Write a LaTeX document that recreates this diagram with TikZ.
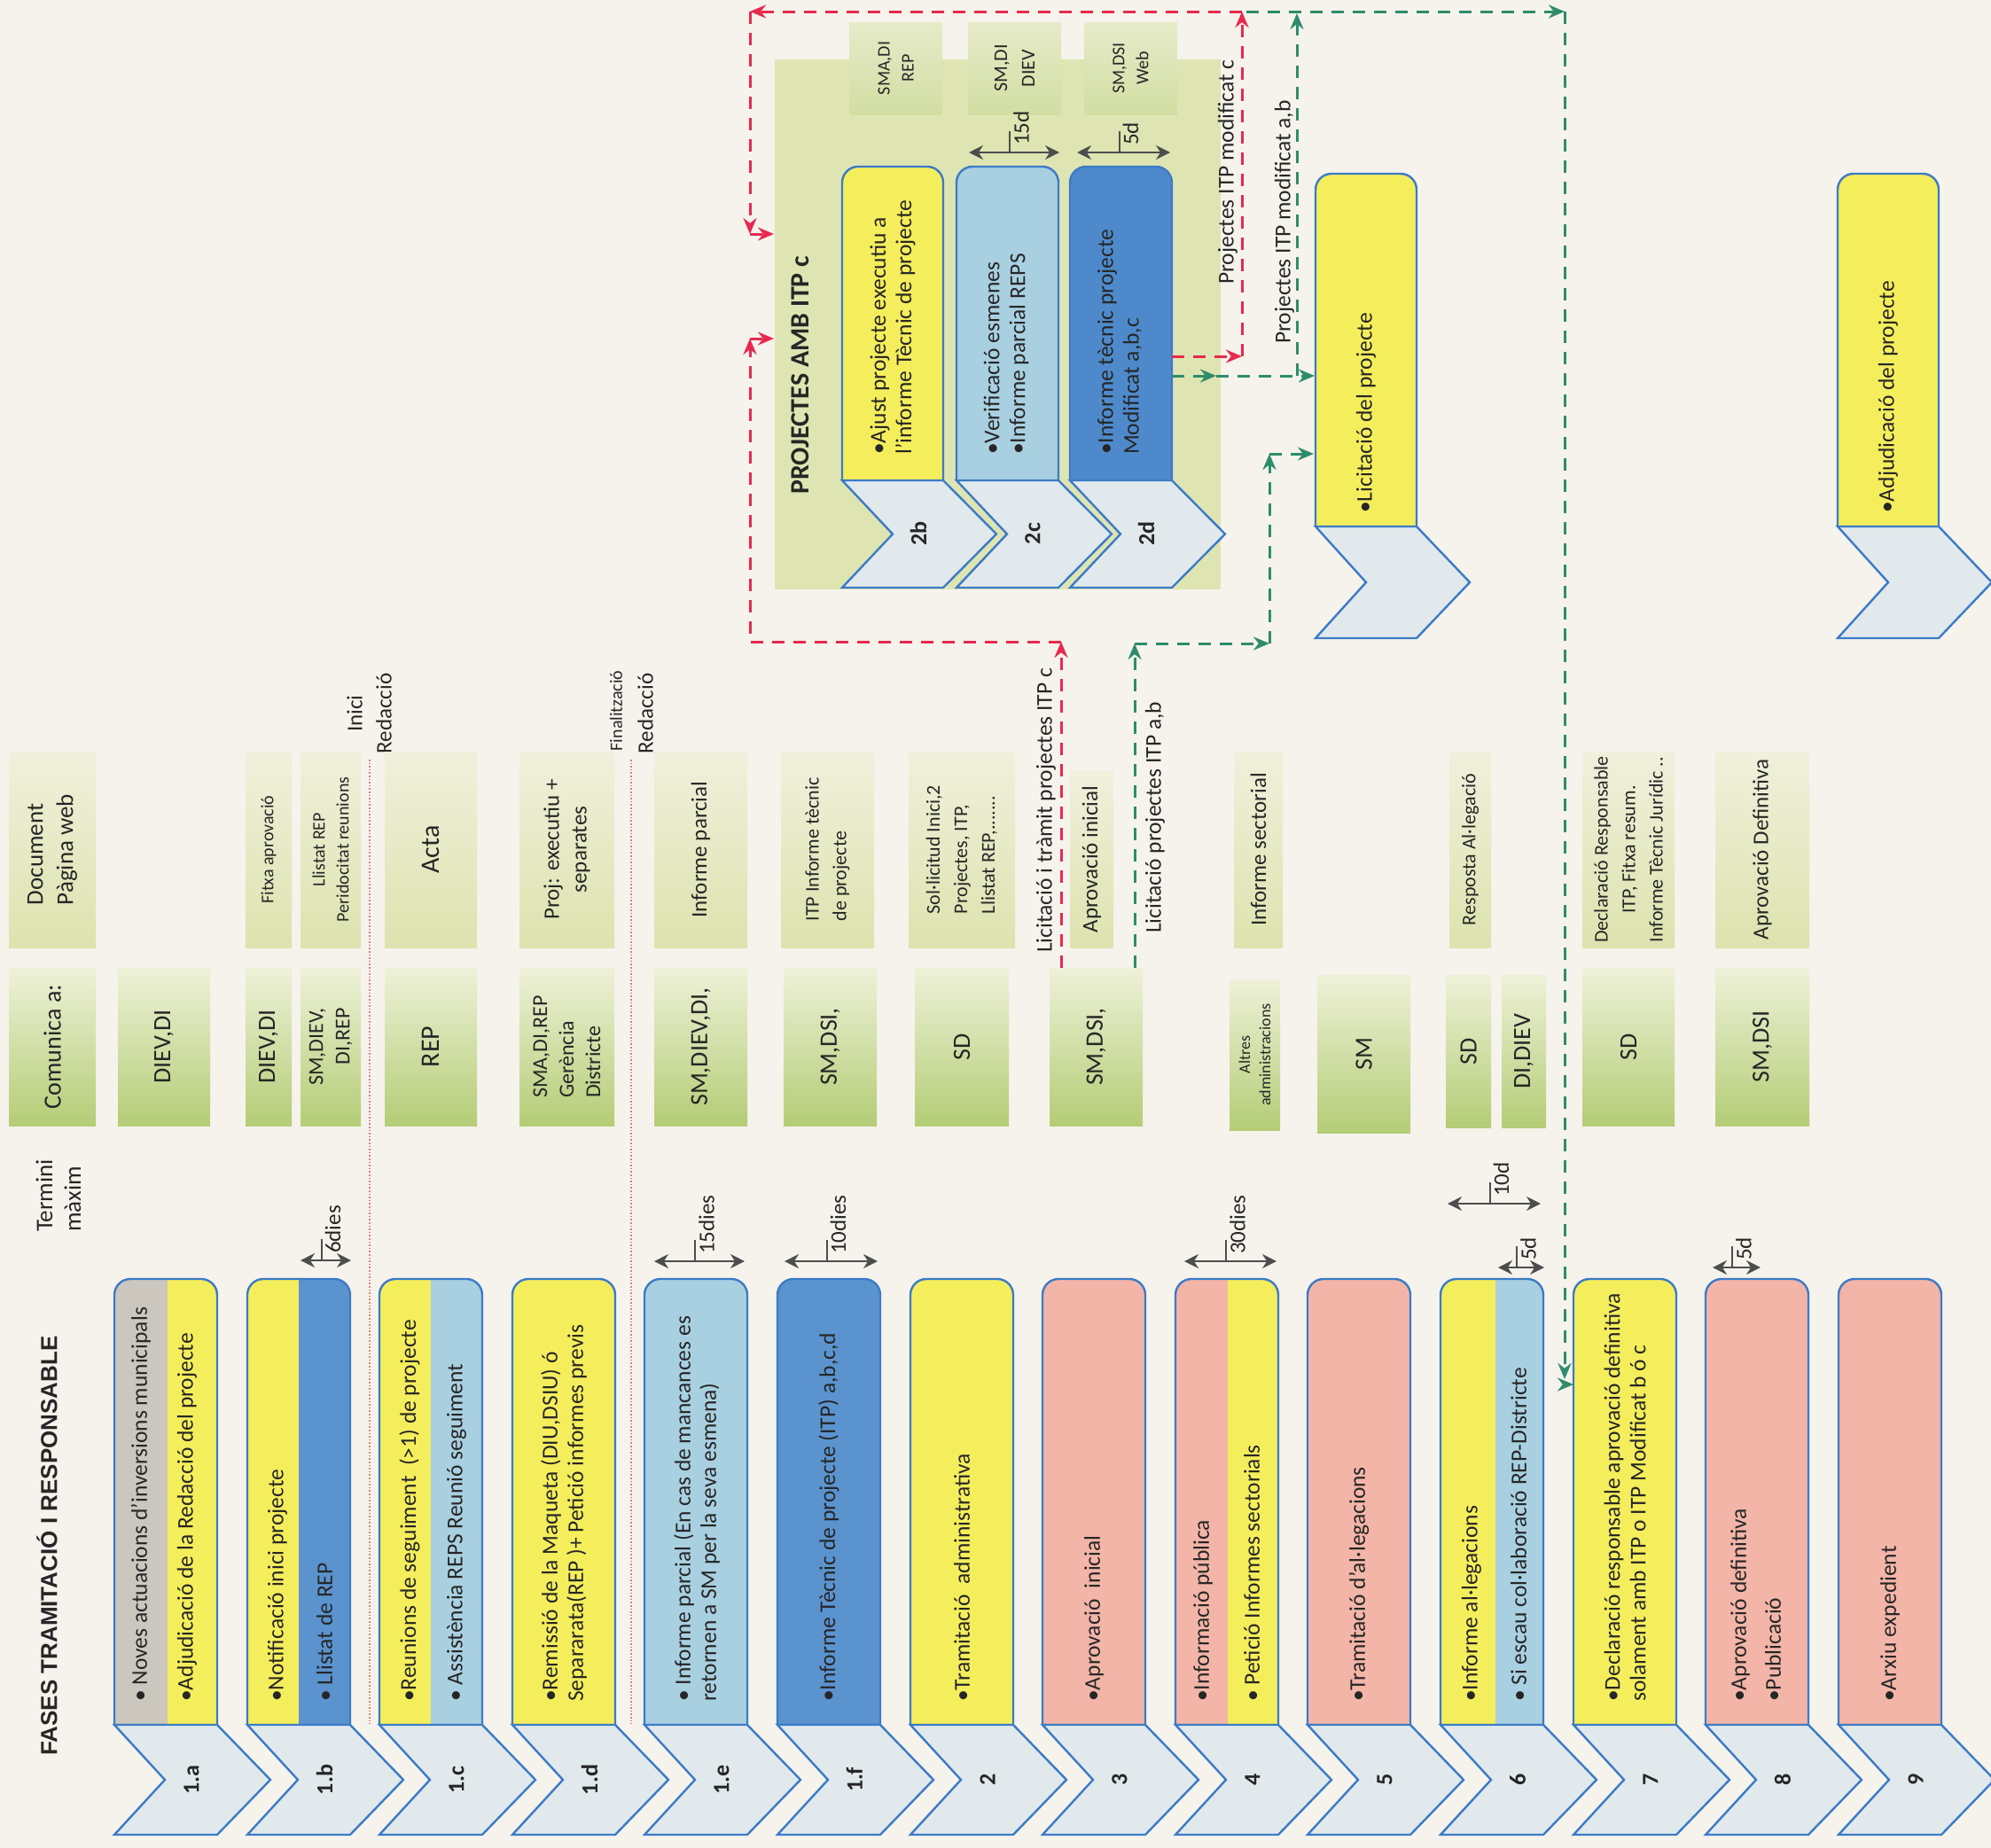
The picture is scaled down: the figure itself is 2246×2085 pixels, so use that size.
\documentclass[tikz,border=0pt]{standalone}
\usepackage{fontspec}
\setmainfont{Carlito}
\newfontfamily\titlefont{Liberation Sans}
\usetikzlibrary{arrows.meta}
\definecolor{paper}{HTML}{F5F3EC}
\definecolor{cyel}{HTML}{F5EE5C}
\definecolor{cgray}{HTML}{CBC7BE}
\definecolor{cdblue}{HTML}{5B93CF}
\definecolor{cdblue2}{HTML}{4E8ACB}
\definecolor{clblue}{HTML}{A9D0E1}
\definecolor{cpink}{HTML}{F3B5A8}
\definecolor{outlc}{HTML}{3C7BC6}
\definecolor{chevfill}{HTML}{E1E9EC}
\definecolor{gdark}{HTML}{B4CD76}
\definecolor{glight}{HTML}{EEF1D8}
\definecolor{dlight}{HTML}{F0F0DC}
\definecolor{ddark}{HTML}{DDE3AE}
\definecolor{tlight}{HTML}{E6EBC9}
\definecolor{tdark}{HTML}{D2DEA3}
\definecolor{cont}{HTML}{DFE5B2}
\definecolor{redd}{HTML}{E8294F}
\definecolor{grnd}{HTML}{2E8C6C}
\definecolor{textc}{HTML}{262626}
\definecolor{arrowc}{HTML}{4D4D4D}
\definecolor{dotc}{HTML}{E07A7A}
\newcommand\mybody{\fontsize{25.5}{29}\selectfont}
\newcommand\mydoc{\fontsize{25}{31}\selectfont}
\newcommand\mydocs{\fontsize{22}{31}\selectfont}
\newcommand\mysmall{\fontsize{20}{27}\selectfont}
\newcommand\mytiny{\fontsize{18}{23}\selectfont}
\newcommand\mycomm{\fontsize{28}{34}\selectfont}
\newcommand\mycomms{\fontsize{24}{30}\selectfont}
\newcommand\myxl{\fontsize{30}{34}\selectfont}
\newcommand\mylab{\bfseries\fontsize{26}{30}\selectfont}
\newcommand\myptitle{\bfseries\fontsize{30}{34}\selectfont}
\newcommand\mydur{\fontsize{25}{30}\selectfont}
\newcommand\mytitle{\titlefont\bfseries\fontsize{26}{30}\selectfont}
\tikzset{
  outl/.style={draw=outlc, line width=2.4pt},
  chevst/.style={draw=outlc, line width=2.4pt, fill=chevfill, line join=miter},
  commbox/.style={draw=none, top color=glight, bottom color=gdark, inner sep=0pt, outer sep=0pt},
  docbox/.style={draw=none, top color=dlight, bottom color=ddark, inner sep=0pt, outer sep=0pt},
  topbox/.style={draw=none, top color=tlight, bottom color=tdark, inner sep=0pt, outer sep=0pt},
  txt/.style={rotate=90, inner sep=0pt, text=textc, font=\mybody},
  chevlab/.style={rotate=90, inner sep=0pt, text=textc, font=\mylab},
  reddash/.style={draw=redd, line width=3pt, dash pattern=on 14pt off 10pt},
  grndash/.style={draw=grnd, line width=3pt, dash pattern=on 14pt off 10pt},
  rarr/.style={reddash, -{Stealth[length=18pt,width=15pt]}},
  garr/.style={grndash, -{Stealth[length=18pt,width=15pt]}},
  dur/.style={draw=arrowc, line width=2.2pt, {Stealth[length=16pt,width=16pt]}-{Stealth[length=16pt,width=16pt]}},
  durtick/.style={draw=arrowc, line width=2pt},
  dotline/.style={draw=dotc, line width=1.6pt, dotted},
}
% box with rounded top: L, R, T, B, colour1, split x, colour2
\newcommand\pbox[7]{%
  \begin{scope}
    \clip[rounded corners=18pt] (#1,#4) -- (#1,#3) -- (#2,#3) -- (#2,#4);
    \fill[#5] (#1,#3) rectangle (#6,#4);
    \fill[#7] (#6,#3) rectangle (#2,#4);
  \end{scope}
  \draw[outl, rounded corners=18pt] (#1,#4) -- (#1,#3) -- (#2,#3) -- (#2,#4);
}
% chevron: L, R, T, B
\newcommand\chev[4]{%
  \draw[chevst] (#1,#3) -- (#2,#3) -- ({#2+60},{(#3+#4)/2}) -- (#2,#4) -- (#1,#4) -- ({#1+57},{(#3+#4)/2}) -- cycle;}
% green box: name, style, x1, y1, x2, y2, text, text options
\newcommand\gbox[8]{%
  \node[#2, minimum width={#5-#3}, minimum height={#6-#4}] (#1) at ({(#3+#5)/2},{(#4+#6)/2}) {};
  \node[txt, #8] (#1t) at (#1.center) {#7};}
% duration marker: name, x1, x2, y, label
\newcommand\durmark[5]{%
  \coordinate (#1a) at (#2,#4);
  \coordinate (#1b) at (#3,#4);
  \draw[dur] (#1a) -- (#1b);
  \draw[durtick] ({(#2+#3)/2-5},#4) -- ({(#2+#3)/2-5},{#4-24});
  \node[txt, anchor=west, font=\mydur] (#1l) at ({(#2+#3)/2+8},{#4-8}) {#5};}
\begin{document}
\begin{tikzpicture}[x=1pt,y=-1pt]
\useasboundingbox (0,0) rectangle (2246,2085);
\fill[paper] (0,0) rectangle (2246,2085);

% ---------- titles ----------
\node[rotate=90, anchor=west, inner sep=0pt, font=\mytitle, text=textc] (title) at (53,1981) {FASES TRAMITACIÓ I RESPONSABLE};
\node[txt, anchor=west, align=left, font=\fontsize{27}{32}\selectfont] (termini) at (66,1390) {Termini\\màxim};

% ---------- dotted separators ----------
\draw[dotline] (417,857) -- (417,1945);
\draw[dotline] (712,857) -- (712,1945);
\node[txt, font=\mydoc] (inici) at (400,805) {Inici};
\node[txt, font=\mydoc] (red1) at (433,805) {Redacció};
\node[txt, font=\mysmall] (finalit) at (695,802) {Finalització};
\node[txt, font=\mydoc] (red2) at (728,805) {Redacció};

% ---------- document row ----------
\gbox{doc0}{docbox}{10}{848}{108}{1069}{Document\\Pàgina web}{align=left, font=\fontsize{27}{34}\selectfont}
\gbox{doc1a}{docbox}{277}{848}{329}{1069}{Fitxa aprovació}{font=\mysmall}
\gbox{doc1b}{docbox}{339}{848}{407}{1069}{Llistat REP\\Peridocitat reunions}{align=center, font=\mysmall}
\gbox{doc1c}{docbox}{434}{848}{538}{1069}{Acta}{font=\myxl}
\gbox{doc1d}{docbox}{586}{848}{693}{1069}{Proj: executiu +\\separates}{align=center, font=\mydoc}
\gbox{doc1e}{docbox}{738}{848}{843}{1069}{Informe parcial}{font=\mydoc}
\gbox{doc1f}{docbox}{881}{848}{986}{1069}{ITP Informe tècnic\\de projecte}{align=left, font=\mydocs}
\gbox{doc2}{docbox}{1025}{848}{1145}{1069}{Sol·licitud Inici,2\\Projectes, ITP,\\Llistat REP,.......}{align=left, font=\mydocs}
\gbox{doc3}{docbox}{1207}{870}{1256}{1069}{Aprovació inicial}{font=\mydoc}
\gbox{doc4}{docbox}{1392}{848}{1447}{1069}{Informe sectorial}{font=\mydoc}
\gbox{doc6}{docbox}{1635}{848}{1682}{1069}{Resposta Al·legació}{font=\mydocs}
\gbox{doc7}{docbox}{1785}{848}{1889}{1069}{Declaració Responsable\\ITP, Fitxa resum.\\Informe Tècnic Jurídic ..}{align=center, font=\mydocs}
\gbox{doc8}{docbox}{1935}{848}{2041}{1069}{Aprovació Definitiva}{font=\mydoc}

% ---------- comunica row ----------
\gbox{comm0}{commbox}{10}{1092}{108}{1270}{Comunica a:}{font=\mycomm}
\gbox{comm1a}{commbox}{133}{1092}{237}{1270}{DIEV,DI}{font=\mycomm}
\gbox{comm1b1}{commbox}{277}{1092}{329}{1270}{DIEV,DI}{font=\mycomm}
\gbox{comm1b2}{commbox}{339}{1092}{407}{1270}{SM,DIEV,\\DI,REP}{align=right, font=\mycomms}
\gbox{comm1c}{commbox}{434}{1092}{538}{1270}{REP}{font=\myxl}
\gbox{comm1d}{commbox}{586}{1092}{693}{1270}{SMA,DI,REP\\Gerència\\Districte}{align=left, font=\mycomms}
\gbox{comm1e}{commbox}{738}{1092}{843}{1270}{SM,DIEV,DI,}{font=\mycomm}
\gbox{comm1f}{commbox}{884}{1092}{989}{1270}{SM,DSI,}{font=\mycomm}
\gbox{comm2}{commbox}{1032}{1092}{1138}{1270}{SD}{font=\mycomm}
\gbox{comm3}{commbox}{1184}{1092}{1289}{1270}{SM,DSI,}{font=\mycomm}
\gbox{comm4}{commbox}{1387}{1105}{1444}{1275}{Altres\\administracions}{align=center, font=\mytiny}
\gbox{comm5}{commbox}{1486}{1100}{1591}{1278}{SM}{font=\mycomm}
\gbox{comm6a}{commbox}{1631}{1100}{1682}{1272}{SD}{font=\mycomm}
\gbox{comm6b}{commbox}{1694}{1100}{1744}{1272}{DI,DIEV}{font=\mycomm}
\gbox{comm7}{commbox}{1785}{1092}{1889}{1270}{SD}{font=\mycomm}
\gbox{comm8}{commbox}{1935}{1092}{2041}{1270}{SM,DSI}{font=\mycomm}

% ---------- bottom phases ----------
\pbox{129}{245}{1443}{1946}{cgray}{189}{cyel}
\pbox{279}{395}{1443}{1946}{cyel}{337}{cdblue}
\pbox{428}{544}{1443}{1946}{cyel}{486}{clblue}
\pbox{578}{694}{1443}{1946}{cyel}{694}{cyel}
\pbox{727}{843}{1443}{1946}{clblue}{843}{clblue}
\pbox{877}{993}{1443}{1946}{cdblue}{993}{cdblue}
\pbox{1027}{1143}{1443}{1946}{cyel}{1143}{cyel}
\pbox{1176}{1292}{1443}{1946}{cpink}{1292}{cpink}
\pbox{1326}{1442}{1443}{1946}{cpink}{1385}{cyel}
\pbox{1475}{1591}{1443}{1946}{cpink}{1591}{cpink}
\pbox{1625}{1741}{1443}{1946}{cyel}{1687}{clblue}
\pbox{1775}{1891}{1443}{1946}{cyel}{1891}{cyel}
\pbox{1924}{2040}{1443}{1946}{cpink}{2040}{cpink}
\pbox{2074}{2190}{1443}{1946}{cpink}{2190}{cpink}

\chev{129}{245}{1946}{2070}
\chev{279}{395}{1946}{2070}
\chev{428}{544}{1946}{2070}
\chev{578}{694}{1946}{2070}
\chev{727}{843}{1946}{2070}
\chev{877}{993}{1946}{2070}
\chev{1027}{1143}{1946}{2070}
\chev{1176}{1292}{1946}{2070}
\chev{1326}{1442}{1946}{2070}
\chev{1475}{1591}{1946}{2070}
\chev{1625}{1741}{1946}{2070}
\chev{1775}{1891}{1946}{2070}
\chev{1924}{2040}{1946}{2070}
\chev{2074}{2190}{1946}{2070}

\node[chevlab] (c1a) at (216,2008) {1.a};
\node[chevlab] (c1b) at (366,2008) {1.b};
\node[chevlab] (c1c) at (515,2008) {1.c};
\node[chevlab] (c1d) at (665,2008) {1.d};
\node[chevlab] (c1e) at (814,2008) {1.e};
\node[chevlab] (c1f) at (964,2008) {1.f};
\node[chevlab] (c2) at (1114,2008) {2};
\node[chevlab] (c3) at (1263,2008) {3};
\node[chevlab] (c4) at (1413,2008) {4};
\node[chevlab] (c5) at (1562,2008) {5};
\node[chevlab] (c6) at (1712,2008) {6};
\node[chevlab] (c7) at (1862,2008) {7};
\node[chevlab] (c8) at (2011,2008) {8};
\node[chevlab] (c9) at (2161,2008) {9};

\node[txt, anchor=west] (t1a1) at (159,1920) {• Noves actuacions d’inversions municipals};
\node[txt, anchor=west] (t1a2) at (211,1920) {•Adjudicació de la Redacció del projecte};
\node[txt, anchor=west] (t1b1) at (313,1920) {•Notificació inici projecte};
\node[txt, anchor=west] (t1b2) at (366,1920) {• Llistat de REP};
\node[txt, anchor=west] (t1c1) at (462,1920) {•Reunions de seguiment~ (>1) de projecte};
\node[txt, anchor=west] (t1c2) at (515,1920) {• Assistència REPS Reunió seguiment};
\node[txt, anchor=west, align=left] (t1d) at (636,1920) {•Remissió de la Maqueta (DIU,DSIU) ó\\Separarata(REP )+ Petició informes previs};
\node[txt, anchor=west, align=left] (t1e) at (786,1920) {• Informe parcial (En cas de mancances es\\retornen a SM per la seva esmena)};
\node[txt, anchor=west] (t1f) at (935,1920) {•Informe Tècnic de projecte (ITP) a,b,c,d};
\node[txt, anchor=west] (t2) at (1085,1920) {•Tramitació~ administrativa};
\node[txt, anchor=west] (t3) at (1234,1920) {•Aprovació~ inicial};
\node[txt, anchor=west] (t41) at (1357,1920) {•Informació pública};
\node[txt, anchor=west] (t42) at (1412,1920) {• Petició Informes sectorials};
\node[txt, anchor=west] (t5) at (1533,1920) {•Tramitació d’al·legacions};
\node[txt, anchor=west] (t61) at (1660,1920) {•Informe al·legacions};
\node[txt, anchor=west] (t62) at (1713,1920) {• Si escau col·laboració REP-Districte};
\node[txt, anchor=west, align=left] (t7) at (1833,1920) {•Declaració responsable aprovació definitiva\\solament amb ITP o ITP Modificat b ó c};
\node[txt, anchor=west] (t81) at (1963,1920) {•Aprovació definitiva};
\node[txt, anchor=west] (t82) at (2000,1920) {•Publicació};
\node[txt, anchor=west] (t9) at (2132,1920) {•Arxiu expedient};

% ---------- duration markers ----------
\durmark{m1}{339}{396}{1422}{6dies}
\durmark{m2}{738}{840}{1423}{15dies}
\durmark{m3}{885}{990}{1423}{10dies}
\durmark{m4}{1336}{1440}{1423}{30dies}
\durmark{m5}{1633}{1738}{1358}{10d}
\durmark{m6}{1690}{1742}{1430}{5d}
\durmark{m7}{1932}{1986}{1430}{5d}

% ---------- PROJECTES AMB ITP c ----------
\node[fill=cont, draw=none, inner sep=0pt, minimum width=503, minimum height=598] (cont) at (1125.5,366) {};
\gbox{top2b}{topbox}{958}{25}{1063}{129}{SMA,DI\\REP}{align=center, font=\mysmall}
\gbox{top2c}{topbox}{1092}{25}{1197}{129}{SM,DI\\DIEV}{align=center, font=\mydocs}
\gbox{top2d}{topbox}{1223}{25}{1328}{129}{SM,DSI\\Web}{align=center, font=\mysmall}
\node[txt, anchor=west, font=\myptitle] (ptitle) at (903,558) {PROJECTES AMB ITP c};
\pbox{950}{1064}{188}{542}{cyel}{1064}{cyel}
\pbox{1079}{1194}{188}{542}{clblue}{1194}{clblue}
\pbox{1207}{1322}{188}{542}{cdblue2}{1322}{cdblue2}
\chev{950}{1064}{542}{663}
\chev{1079}{1194}{542}{663}
\chev{1207}{1322}{542}{663}
\node[chevlab] (c2b) at (1036,602) {2b};
\node[chevlab] (c2c) at (1165,602) {2c};
\node[chevlab] (c2d) at (1293,602) {2d};
\node[txt, anchor=west, align=left] (t2b) at (1007,513) {•Ajust projecte executiu a\\l’informe Tècnic de projecte};
\node[txt, anchor=west, align=left] (t2c) at (1135,513) {•Verificació esmenes\\•Informe parcial REPS};
\node[txt, anchor=west, align=left] (t2d) at (1263,513) {•Informe tècnic projecte\\Modificat a,b,c};
\durmark{m8}{1093}{1195}{172}{15d}
\durmark{m9}{1215}{1320}{172}{5d}

% ---------- Licitació / Adjudicació ----------
\pbox{1484}{1598}{196}{594}{cyel}{1598}{cyel}
\chev{1484}{1598}{594}{720}
\node[txt, anchor=west] (tlic) at (1541,579) {•Licitació del projecte};
\pbox{2073}{2187}{196}{594}{cyel}{2187}{cyel}
\chev{2073}{2187}{594}{720}
\node[txt, anchor=west] (tadj) at (2130,579) {•Adjudicació del projecte};

% ---------- connectors ----------
\coordinate (ra0) at (1197,1092);
\coordinate (ra1) at (1197,724);
\coordinate (ra2) at (846,724);
\coordinate (ra3) at (846,382);
\coordinate (ra4) at (873,382);
\draw[rarr] (ra0) -- (ra1);
\draw[rarr] (ra1) -- (ra2) -- (ra3);
\draw[rarr] (ra3) -- (ra4);

\coordinate (rb0) at (1322,402);
\coordinate (rb1) at (1401,402);
\coordinate (rb2) at (1401,13);
\coordinate (rb3) at (846,13);
\coordinate (rb4) at (846,264);
\coordinate (rb5) at (873,264);
\draw[rarr] (rb0) -- (rb1);
\draw[rarr] (rb1) -- (rb2);
\draw[rarr] (rb2) -- (rb3);
\draw[rarr] (rb3) -- (rb4);
\draw[rarr] (rb4) -- (rb5);

\coordinate (gc0) at (1280,1092);
\coordinate (gc1) at (1280,726);
\coordinate (gc2) at (1432,726);
\coordinate (gc3) at (1432,512);
\coordinate (gc4) at (1482,512);
\draw[garr] (gc0) -- (gc1);
\draw[garr] (gc1) -- (gc2);
\draw[garr] (gc2) -- (gc3);
\draw[garr] (gc3) -- (gc4);

\coordinate (gd0) at (1322,424);
\coordinate (gd1) at (1372,424);
\coordinate (gd2) at (1483,424);
\coordinate (gd3) at (1463,424);
\coordinate (gd4) at (1463,15);
\draw[garr] (gd0) -- (gd1);
\draw[garr] (gd1) -- (gd2);
\draw[garr] (gd3) -- (gd4);
\coordinate (ge0) at (1406,13);
\coordinate (ge1) at (1765,13);
\coordinate (ge2) at (1765,1556);
\coordinate (ge3) at (1765,1562);
\coordinate (ge4) at (1775,1562);
\draw[garr] (ge0) -- (ge1);
\draw[garr] (ge1) -- (ge2);
\draw[garr] (ge3) -- (ge4);

\node[txt, anchor=west] (lab1) at (1180,1075) {Licitació i tràmit projectes ITP c};
\node[txt, anchor=west] (lab2) at (1303,1053) {Licitació projectes ITP a,b};
\node[txt, anchor=west] (lab3) at (1385,321) {Projectes ITP modificat c};
\node[txt, anchor=west] (lab4) at (1449,388) {Projectes ITP modificat a,b};
\end{tikzpicture}
\end{document}
